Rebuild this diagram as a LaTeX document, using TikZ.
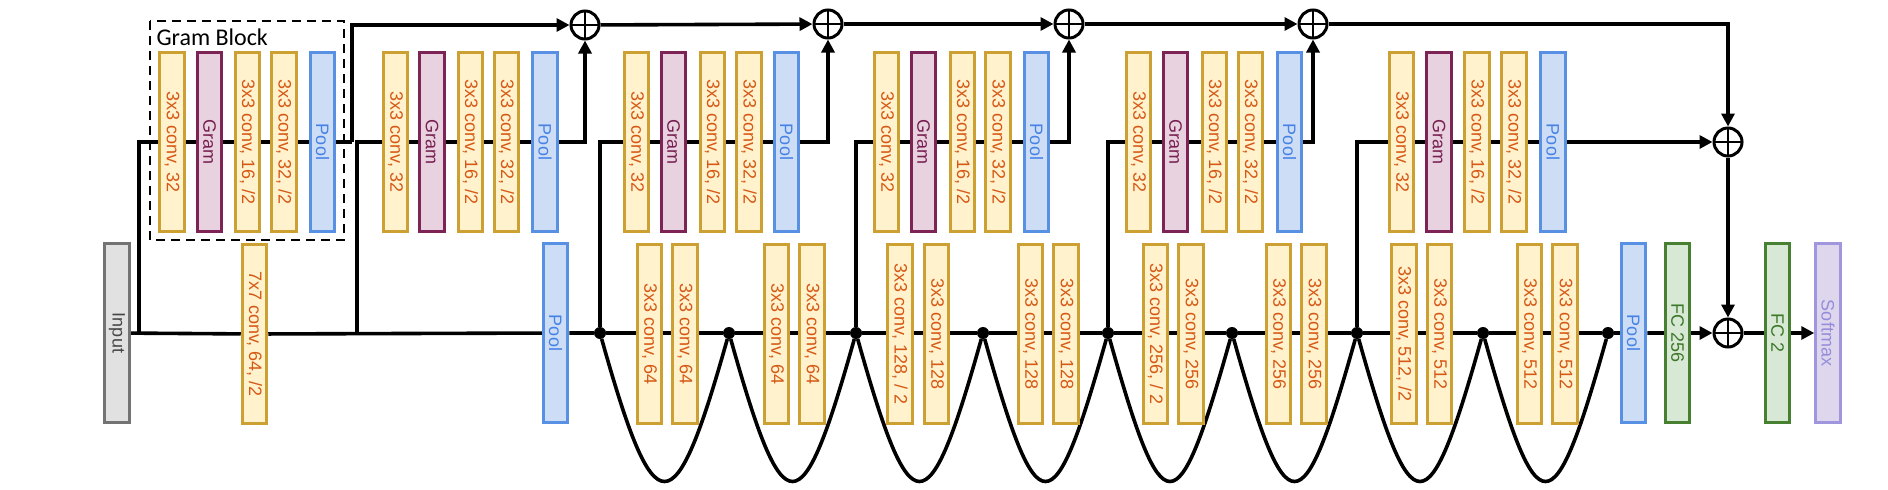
\documentclass[tikz,border=0pt]{standalone}
\usepackage{fontspec}
\setmainfont{Liberation Sans}
\newfontfamily\blockfont{Carlito}
\usepackage{tikz}
\usetikzlibrary{arrows.meta}

\definecolor{convfill}{RGB}{255,242,204}
\definecolor{convline}{RGB}{204,160,50}
\definecolor{convtext}{RGB}{214,88,20}
\definecolor{gramfill}{RGB}{232,210,224}
\definecolor{gramline}{RGB}{125,35,85}
\definecolor{gramtext}{RGB}{120,30,80}
\definecolor{poolfill}{RGB}{204,221,245}
\definecolor{poolline}{RGB}{88,144,228}
\definecolor{pooltext}{RGB}{70,130,230}
\definecolor{greyfill}{RGB}{225,225,225}
\definecolor{greyline}{RGB}{115,115,115}
\definecolor{greytext}{RGB}{70,70,70}
\definecolor{fcfill}{RGB}{215,232,212}
\definecolor{fcline}{RGB}{72,128,50}
\definecolor{fctext}{RGB}{60,120,40}
\definecolor{smfill}{RGB}{222,214,236}
\definecolor{smline}{RGB}{160,150,222}
\definecolor{smtext}{RGB}{150,140,220}

\pgfdeclarelayer{bg}
\pgfsetlayers{bg,main}

\tikzset{
  layer/.style={rectangle, draw, line width=3pt, rotate=-90, minimum width=179pt,
    minimum height=24.5pt, inner sep=0pt, font=\fontsize{18}{20}\selectfont},
  conv/.style={layer, draw=convline, fill=convfill, text=convtext},
  gram/.style={layer, draw=gramline, fill=gramfill, text=gramtext},
  pool/.style={layer, draw=poolline, fill=poolfill, text=pooltext},
  inbox/.style={layer, draw=greyline, fill=greyfill, text=greytext},
  fc/.style={layer, draw=fcline, fill=fcfill, text=fctext},
  smbox/.style={layer, draw=smline, fill=smfill, text=smtext},
  sumnode/.style={circle, draw, fill=white, line width=3pt, minimum size=28pt, inner sep=0pt,
    path picture={\draw[line width=2.5pt] (path picture bounding box.north) -- (path picture bounding box.south)
      (path picture bounding box.west) -- (path picture bounding box.east);}},
  joint/.style={circle, fill=black, minimum size=12pt, inner sep=0pt},
  link/.style={line width=3.6pt},
  arr/.style={-{Triangle[length=13pt,width=13pt]}}
}

\begin{document}
\begin{tikzpicture}[x=1pt, y=-1pt]
\useasboundingbox (0,0) rectangle (1888,490);

% main row
\node[inbox] (in) at (117,333) {Input};
\node[conv] (c7) at (254.5,334) {7x7 conv, 64, /2};
\node[pool] (p0) at (555.5,333) {Pool};
\coordinate (j1) at (139,333);
\coordinate (j2) at (357,333);

\node[joint] (d1) at (600,333) {};
\node[joint] (d2) at (729,333) {};
\node[joint] (d3) at (856,333) {};
\node[joint] (d4) at (983,333) {};
\node[joint] (d5) at (1108,333) {};
\node[joint] (d6) at (1232,333) {};
\node[joint] (d7) at (1357,333) {};
\node[joint] (d8) at (1483,333) {};
\node[joint] (d9) at (1608,333) {};

\node[conv] (r1a) at (649.5,334) {3x3 conv, 64};
\node[conv] (r1b) at (685,334) {3x3 conv, 64};
\node[conv] (r2a) at (776.5,334) {3x3 conv, 64};
\node[conv] (r2b) at (812,334) {3x3 conv, 64};
\node[conv] (r3a) at (900,334) {3x3 conv, 128, / 2};
\node[conv] (r3b) at (936.5,334) {3x3 conv, 128};
\node[conv] (r4a) at (1030.5,334) {3x3 conv, 128};
\node[conv] (r4b) at (1066,334) {3x3 conv, 128};
\node[conv] (r5a) at (1155.5,334) {3x3 conv, 256, / 2};
\node[conv] (r5b) at (1191,334) {3x3 conv, 256};
\node[conv] (r6a) at (1278.5,334) {3x3 conv, 256};
\node[conv] (r6b) at (1314,334) {3x3 conv, 256};
\node[conv] (r7a) at (1404,334) {3x3 conv, 512, /2};
\node[conv] (r7b) at (1439.5,334) {3x3 conv, 512};
\node[conv] (r8a) at (1529.5,334) {3x3 conv, 512};
\node[conv] (r8b) at (1565,334) {3x3 conv, 512};

\node[pool] (p7) at (1633.5,333) {Pool};
\node[fc] (fc1) at (1677.5,333) {FC 256};
\node[sumnode] (s6) at (1728,333) {};
\node[fc] (fc2) at (1777.5,333) {FC 2};
\node[smbox] (sm) at (1828,333) {Softmax};

% gram blocks
\node[conv] (b1a) at (172,142) {3x3 conv, 32};
\node[gram] (b1b) at (209.5,142) {Gram};
\node[conv] (b1c) at (247.5,142) {3x3 conv, 16, /2};
\node[conv] (b1d) at (284,142) {3x3 conv, 32, /2};
\node[pool] (b1e) at (322.5,142) {Pool};
\coordinate (k1) at (352,142);

\node[conv] (b2a) at (395.5,142) {3x3 conv, 32};
\node[gram] (b2b) at (432,142) {Gram};
\node[conv] (b2c) at (470.5,142) {3x3 conv, 16, /2};
\node[conv] (b2d) at (506.5,142) {3x3 conv, 32, /2};
\node[pool] (b2e) at (545,142) {Pool};

\node[conv] (b3a) at (636.5,142) {3x3 conv, 32};
\node[gram] (b3b) at (673.5,142) {Gram};
\node[conv] (b3c) at (712.5,142) {3x3 conv, 16, /2};
\node[conv] (b3d) at (749,142) {3x3 conv, 32, /2};
\node[pool] (b3e) at (786.5,142) {Pool};

\node[conv] (b4a) at (886.5,142) {3x3 conv, 32};
\node[gram] (b4b) at (923.5,142) {Gram};
\node[conv] (b4c) at (962.5,142) {3x3 conv, 16, /2};
\node[conv] (b4d) at (998,142) {3x3 conv, 32, /2};
\node[pool] (b4e) at (1036.5,142) {Pool};

\node[conv] (b5a) at (1138.5,142) {3x3 conv, 32};
\node[gram] (b5b) at (1175.5,142) {Gram};
\node[conv] (b5c) at (1214.5,142) {3x3 conv, 16, /2};
\node[conv] (b5d) at (1250.5,142) {3x3 conv, 32, /2};
\node[pool] (b5e) at (1289.5,142) {Pool};

\node[conv] (b6a) at (1401.5,142) {3x3 conv, 32};
\node[gram] (b6b) at (1439,142) {Gram};
\node[conv] (b6c) at (1477,142) {3x3 conv, 16, /2};
\node[conv] (b6d) at (1514,142) {3x3 conv, 32, /2};
\node[pool] (b6e) at (1553,142) {Pool};

\node[sumnode] (s1) at (585,25) {};
\node[sumnode] (s2) at (828,24) {};
\node[sumnode] (s3) at (1069,24) {};
\node[sumnode] (s4) at (1313,24) {};
\node[sumnode] (s5) at (1728,142) {};

\draw[line width=2.2pt, dash pattern=on 9pt off 6pt] (150,21) rectangle (344,240);
\node[anchor=base west, font=\blockfont\fontsize{24}{26}\selectfont] (gb) at (153,45) {Gram Block};

\begin{pgfonlayer}{bg}
\draw[link] (in) -- (c7) -- (p0) -- (d1) -- (d2) -- (d3) -- (d4) -- (d5) -- (d6) -- (d7) -- (d8) -- (d9) -- (p7) -- (fc1);
\draw[link, arr] (fc1) -- (s6);
\draw[link] (s6) -- (fc2);
\draw[link, arr] (fc2) -- (sm);

\draw[link] (j1) |- (b1a) -- (b1b) -- (b1c) -- (b1d) -- (b1e) -- (k1);
\draw[link, arr] (k1) |- (s1);
\draw[link] (j2) |- (b2a) -- (b2b) -- (b2c) -- (b2d) -- (b2e);
\draw[link, arr] (b2e) -| (s1);
\draw[link] (d1) |- (b3a) -- (b3b) -- (b3c) -- (b3d) -- (b3e);
\draw[link, arr] (b3e) -| (s2);
\draw[link] (d3) |- (b4a) -- (b4b) -- (b4c) -- (b4d) -- (b4e);
\draw[link, arr] (b4e) -| (s3);
\draw[link] (d5) |- (b5a) -- (b5b) -- (b5c) -- (b5d) -- (b5e);
\draw[link, arr] (b5e) -| (s4);
\draw[link] (d7) |- (b6a) -- (b6b) -- (b6c) -- (b6d) -- (b6e);
\draw[link, arr] (b6e) -- (s5);

\draw[link, arr] (s1) -- (s2);
\draw[link, arr] (s2) -- (s3);
\draw[link, arr] (s3) -- (s4);
\draw[link, arr] (s4) -| (s5);
\draw[link, arr] (s5) -- (s6);

% skip curves
\draw[link] (d1) .. controls +(55,196) and +(-55,196) .. (d2);
\draw[link] (d2) .. controls +(55,196) and +(-55,196) .. (d3);
\draw[link] (d3) .. controls +(55,196) and +(-55,196) .. (d4);
\draw[link] (d4) .. controls +(55,196) and +(-55,196) .. (d5);
\draw[link] (d5) .. controls +(55,196) and +(-55,196) .. (d6);
\draw[link] (d6) .. controls +(55,196) and +(-55,196) .. (d7);
\draw[link] (d7) .. controls +(55,196) and +(-55,196) .. (d8);
\draw[link] (d8) .. controls +(55,196) and +(-55,196) .. (d9);
\end{pgfonlayer}
\end{tikzpicture}
\end{document}
